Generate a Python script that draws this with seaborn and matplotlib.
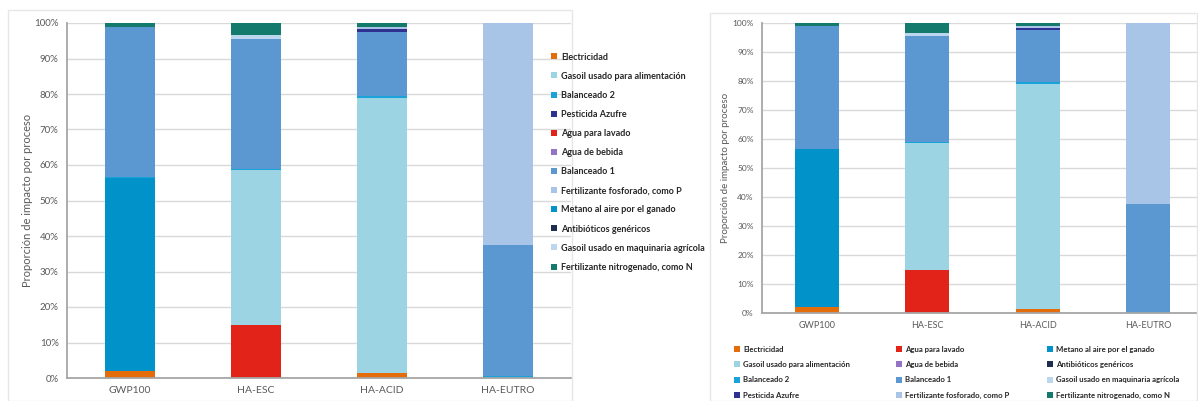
import numpy as np
import pandas as pd
import matplotlib
matplotlib.use("Agg")
import matplotlib.pyplot as plt
from matplotlib.patches import Rectangle
from matplotlib.lines import Line2D
import seaborn as sns

categories = ["GWP100", "HA-ESC", "HA-ACID", "HA-EUTRO"]

# Process contributions (%), listed from the bottom of each stack upwards
processes = [
    "Electricidad", "Agua para lavado", "Metano al aire por el ganado",
    "Gasoil usado para alimentación", "Agua de bebida", "Antibióticos genéricos",
    "Balanceado 2", "Balanceado 1", "Gasoil usado en maquinaria agrícola",
    "Pesticida Azufre", "Fertilizante fosforado, como P", "Fertilizante nitrogenado, como N",
]
electricidad = [2.0, 0.0, 1.5, 0.0]
agua_lavado = [0.0, 15.0, 0.0, 0.0]
metano = [54.4, 0.0, 0.0, 0.0]
gasoil_alimentacion = [0.0, 43.5, 77.5, 0.0]
agua_bebida = [0.0, 0.0, 0.0, 0.0]
antibioticos = [0.0, 0.0, 0.0, 0.0]
balanceado_2 = [0.3, 0.5, 0.5, 0.5]
balanceado_1 = [42.2, 36.5, 18.0, 37.0]
gasoil_maquinaria = [0.0, 1.0, 0.0, 0.0]
pesticida_azufre = [0.0, 0.0, 0.8, 0.0]
fertilizante_p = [0.0, 0.0, 0.7, 62.5]
fertilizante_n = [1.1, 3.5, 1.0, 0.0]

series = [electricidad, agua_lavado, metano, gasoil_alimentacion, agua_bebida,
          antibioticos, balanceado_2, balanceado_1, gasoil_maquinaria,
          pesticida_azufre, fertilizante_p, fertilizante_n]

colors = ["#E46C0A", "#E2231A", "#0092C8", "#9DD4E4", "#9473C5", "#1F2E4F",
          "#1AA3D9", "#5B98D2", "#BCD6EE", "#2E3190", "#A8C5E8", "#137A6C"]

# legend entries read row by row across three columns
legend_cols = [[0, 3, 6, 9], [1, 4, 7, 10], [2, 5, 8, 11]]

tops = np.cumsum(np.array(series, dtype=float), axis=0)
df = pd.DataFrame(tops.T, columns=processes)
df["categoria"] = categories

sns.set_theme(style="white")
plt.rcParams["font.family"] = ["Lato", "DejaVu Sans"]

fig = plt.figure(figsize=(11.98, 4.01), dpi=100)

# light panel frames
fig.patches.append(Rectangle((8 / 1198, 0), (572 - 8) / 1198, 1 - 10 / 401,
                             transform=fig.transFigure, fill=False,
                             edgecolor="#E6E6E6", linewidth=1.0))
fig.patches.append(Rectangle((710 / 1198, 0), (1197 - 710) / 1198, 1 - 13 / 401,
                             transform=fig.transFigure, fill=False,
                             edgecolor="#E6E6E6", linewidth=1.0))

ax1 = fig.add_axes([67 / 1198, 1 - 378 / 401, 504 / 1198, 355 / 401])
ax2 = fig.add_axes([762 / 1198, 1 - 313 / 401, 436 / 1198, 290 / 401])


def draw(ax, tick_fs, cat_fs, lab_fs, xmax, labelpad):
    # overlay cumulative totals from the top layer down so each band shows
    for i in range(len(processes) - 1, -1, -1):
        sns.barplot(data=df, x="categoria", y=processes[i], ax=ax,
                    color=colors[i], saturation=1, width=0.4,
                    linewidth=0, order=categories)
    ax.set_ylim(0, 100)
    ax.set_xlim(-0.5, xmax)
    ax.set_yticks(np.arange(0, 101, 10))
    ax.set_yticklabels([f"{v}%" for v in range(0, 101, 10)], fontsize=tick_fs,
                       color="#595959")
    ax.tick_params(axis="x", labelsize=cat_fs, colors="#595959", length=0, pad=6)
    ax.tick_params(axis="y", length=0, pad=6)
    ax.set_xlabel("")
    ax.set_ylabel("Proporción de impacto por proceso", fontsize=lab_fs,
                  color="#595959", labelpad=labelpad)
    ax.yaxis.grid(True, color="#D9D9D9", linewidth=1.0)
    ax.set_axisbelow(True)
    for s in ["top", "right"]:
        ax.spines[s].set_visible(False)
    for s in ["left", "bottom"]:
        ax.spines[s].set_color("#A6A6A6")
        ax.spines[s].set_linewidth(1.3)


draw(ax1, 7, 7.5, 8, 3.5, 1)
draw(ax2, 6, 6.5, 7, 3.455, 2)

handles = [Line2D([0], [0], marker="s", linestyle="none", markersize=4.2,
                  markerfacecolor=c, markeredgewidth=0) for c in colors]

# single-column legend beside the left chart
left_order = [i for col in legend_cols for i in col]
fig.legend([handles[i] for i in left_order], [processes[i] for i in left_order],
           loc="upper left", bbox_to_anchor=(546 / 1198, 1 - 48 / 401),
           ncol=1, frameon=False, handlelength=0.7, handletextpad=0.5,
           labelspacing=1.12, borderpad=0, prop={"weight": "bold", "size": 6.5})

# three-column legend under the right chart
for col, x0 in zip(legend_cols, [730, 892, 1043]):
    fig.legend([handles[i] for i in col], [processes[i] for i in col],
               loc="upper left", bbox_to_anchor=(x0 / 1198, 1 - 342 / 401),
               ncol=1, frameon=False, handlelength=0.7, handletextpad=0.5,
               labelspacing=1.06, borderpad=0,
               prop={"weight": "bold", "size": 5.6})

fig.savefig("out.png", dpi=100)
